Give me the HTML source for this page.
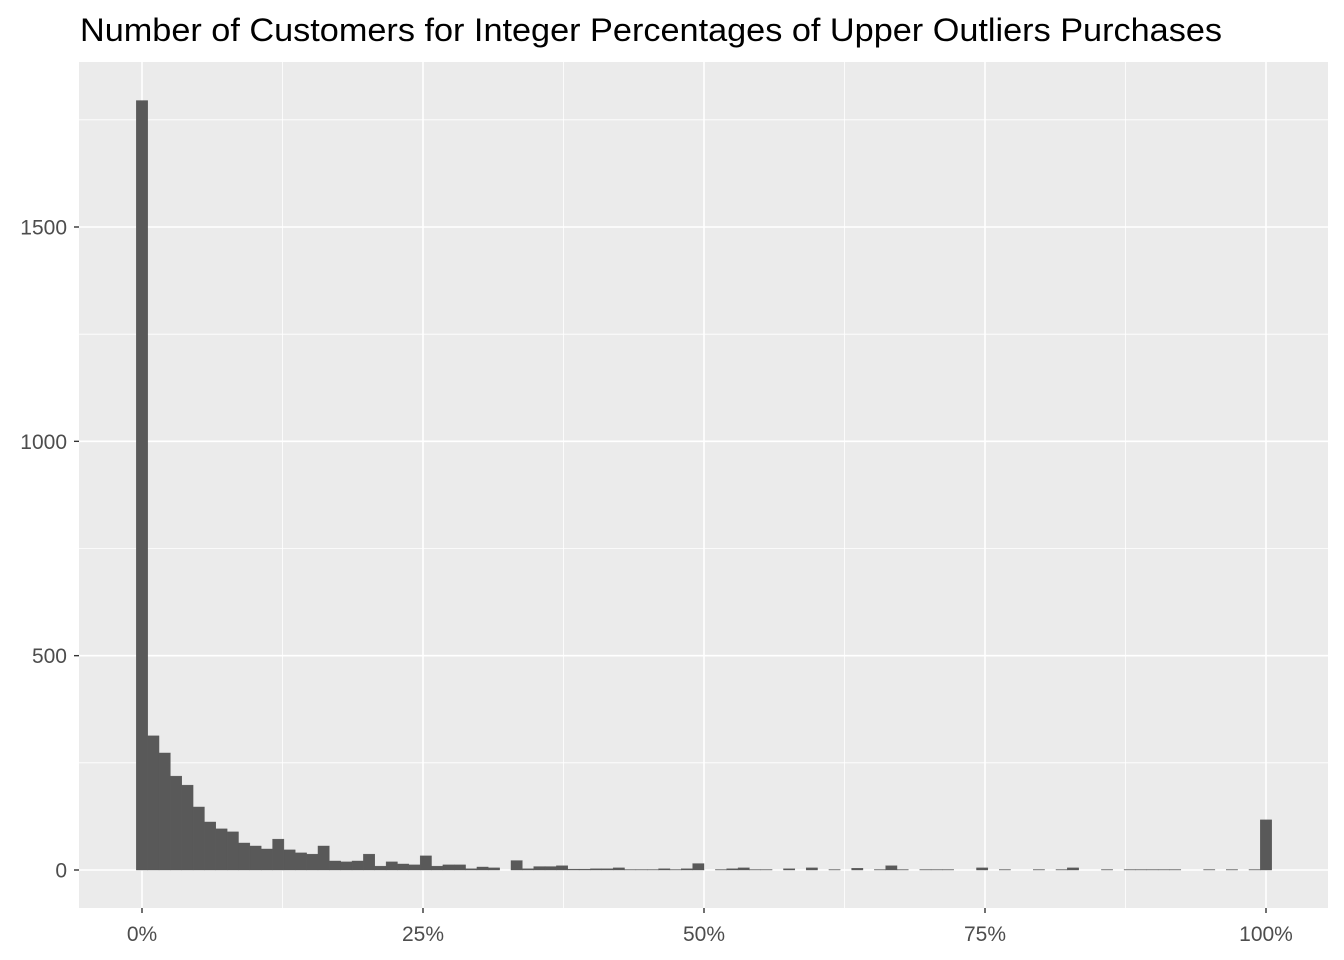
<!DOCTYPE html>
<html><head><meta charset="utf-8"><style>
html,body{margin:0;padding:0;background:#fff}
svg{display:block;font-family:"Liberation Sans",Arial,sans-serif}
</style></head><body>
<svg id="chart" width="1344" height="960" viewBox="0 0 1344 960" xmlns="http://www.w3.org/2000/svg">
<text x="80" y="41" font-size="32" fill="#000" textLength="1142" lengthAdjust="spacingAndGlyphs">Number of Customers for Integer Percentages of Upper Outliers Purchases</text>
<rect x="79" y="62" width="1249" height="846" fill="#EBEBEB"/>
<g id="grid"></g>
<g id="bars"></g>
<g id="ticks"></g>
</svg>
<script>
const counts = [1795,313,273,219,198,147,112,96,89,63,56,49,72,47,40,37,56,21,19,21,37,9,19,14,12,33,9,12,12,3,7,5,0,22,3,8,8,10,2,2,3,3,5,1,1,1,3,1,3,15,0,1,3,5,1,1,0,3,0,5,0,1,0,4,0,1,10,1,0,1,1,1,0,0,5,0,1,0,0,1,0,1,5,0,0,1,0,1,1,1,1,1,0,0,1,0,1,0,1,117];
const yTicks = [0,500,1000,1500];
const yMinor = [250,750,1250,1750];
const xTicks = [0,25,50,75,100];
const xTickLabels = ["0%","25%","50%","75%","100%"];
const xMinor = [12.5,37.5,62.5,87.5];
const binWidth = 100/99;

const NS="http://www.w3.org/2000/svg";
function xs(p){return 142 + p*11.24;}
function ys(v){return 870 - v*0.42867;}
function mk(tag,attrs,parent){const e=document.createElementNS(NS,tag);for(const k in attrs)e.setAttribute(k,attrs[k]);parent.appendChild(e);return e;}
const grid=document.getElementById('grid'),bars=document.getElementById('bars'),ticks=document.getElementById('ticks');
yMinor.forEach(v=>{const l=mk('line',{x1:79,x2:1328,y1:ys(v),y2:ys(v),stroke:'#fff','stroke-width':0.8},grid);

});
xMinor.forEach(v=>{const l=mk('line',{x1:xs(v),x2:xs(v),y1:62,y2:908,stroke:'#fff','stroke-width':0.8},grid);

});
yTicks.forEach(v=>{const l=mk('line',{x1:79,x2:1328,y1:ys(v),y2:ys(v),stroke:'#fff','stroke-width':1.6},grid);


mk('line',{x1:74,x2:79,y1:ys(v),y2:ys(v),stroke:'#333','stroke-width':1.4},ticks);
const t=mk('text',{x:67,y:ys(v)+7.5,'font-size':21,fill:'#4D4D4D','text-anchor':'end'},ticks);t.textContent=v;

});
xTicks.forEach((v,i)=>{const l=mk('line',{x1:xs(v),x2:xs(v),y1:62,y2:908,stroke:'#fff','stroke-width':1.6},grid);


mk('line',{x1:xs(v),x2:xs(v),y1:908,y2:913,stroke:'#333','stroke-width':1.4},ticks);
const t=mk('text',{x:xs(v),y:941,'font-size':21,fill:'#4D4D4D','text-anchor':'middle'},ticks);t.textContent=xTickLabels[i];

});
counts.forEach((c,k)=>{if(c<=0)return;const c0=k*binWidth;
const x0=xs(c0-binWidth/2),x1=xs(c0+binWidth/2);
const r=mk('rect',{x:x0,y:ys(c),width:x1-x0,height:ys(0)-ys(c),fill:'#595959',stroke:'#595959','stroke-width':0.4},bars);

});
</script>
</body></html>
